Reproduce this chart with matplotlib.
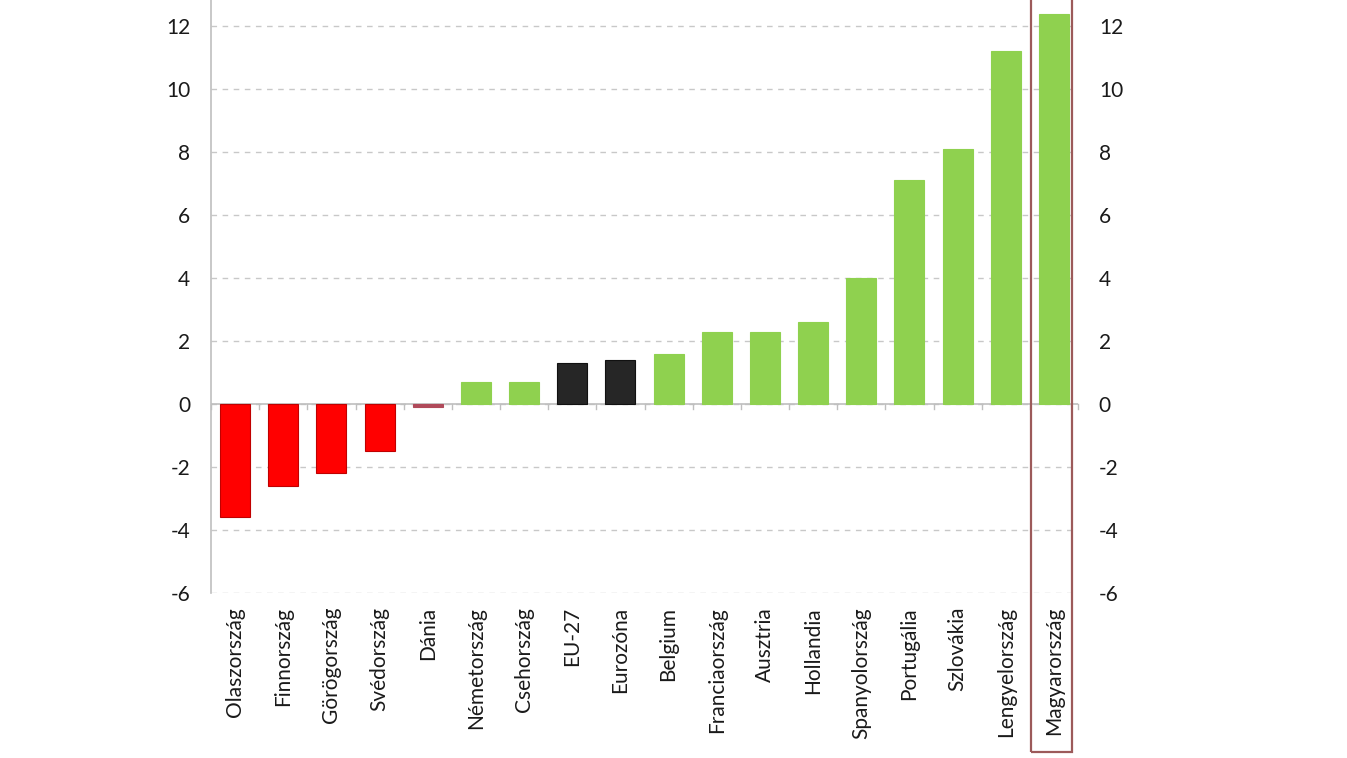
import numpy as np
import matplotlib
matplotlib.use("Agg")
import matplotlib.pyplot as plt
from matplotlib.patches import Rectangle
from matplotlib.transforms import blended_transform_factory

countries = ["Olaszország", "Finnország", "Görögország", "Svédország", "Dánia",
             "Németország", "Csehország", "EU-27", "Eurozóna", "Belgium",
             "Franciaország", "Ausztria", "Hollandia", "Spanyolország",
             "Portugália", "Szlovákia", "Lengyelország", "Magyarország"]
values = [-3.6, -2.6, -2.2, -1.5, -0.1, 0.7, 0.7, 1.3, 1.4, 1.6,
          2.3, 2.3, 2.6, 4.0, 7.1, 8.1, 11.2, 12.4]
groups = ["neg", "neg", "neg", "neg", "dk", "pos", "pos", "eu", "eu", "pos",
          "pos", "pos", "pos", "pos", "pos", "pos", "pos", "pos"]
yticks = [-6, -4, -2, 0, 2, 4, 6, 8, 10, 12]

palette = {"neg": "#ff0000", "dk": "#b04a5a", "pos": "#8fd14f", "eu": "#262626"}
edge = {"neg": "#c00000", "dk": "#b04a5a", "pos": "#8fd14f", "eu": "#111111"}

plt.rcParams["font.family"] = ["Lato", "DejaVu Sans"]

fig = plt.figure(figsize=(13.47, 7.58), dpi=100)
ax = fig.add_axes([211 / 1347, (758 - 593) / 758, (1078 - 211) / 1347, 593 / 758])

x = np.arange(len(countries))
ax.bar(x, values, width=0.62, color=[palette[g] for g in groups],
       edgecolor=[edge[g] for g in groups], linewidth=0.8, zorder=3)

ax.set_xlim(-0.5, len(countries) - 0.5)
ax.set_ylim(-6, 12.83)
ax.set_yticks(yticks)
ax.set_yticklabels([str(t) for t in yticks], fontsize=15, color="#1a1a1a")
ax.yaxis.grid(True, linestyle=(0, (4, 4)), color="#c8c8c8", linewidth=1, zorder=0)
ax.tick_params(axis="y", length=0, pad=15)

# zero line with small category ticks
ax.axhline(0, color="#bfbfbf", linewidth=1.2, zorder=2)
for b in np.arange(-0.5, len(countries), 1.0):
    ax.plot([b, b], [0, -0.15], color="#bfbfbf", linewidth=1, zorder=2, clip_on=False)

ax.set_xticks(x)
ax.set_xticklabels(countries, rotation=90, fontsize=15, color="#1a1a1a", va="top")
ax.tick_params(axis="x", length=0, pad=10)

for s in ["top", "right", "bottom"]:
    ax.spines[s].set_visible(False)
ax.spines["left"].set_color("#bfbfbf")
ax.spines["left"].set_linewidth(1.2)

ax2 = ax.twinx()
ax2.set_ylim(ax.get_ylim())
ax2.set_yticks(yticks)
ax2.set_yticklabels([str(t) for t in yticks], fontsize=15, color="#1a1a1a")
ax2.tick_params(axis="y", length=0, pad=15)
for s in ax2.spines.values():
    s.set_visible(False)

# highlight box around Magyarország
tr = blended_transform_factory(ax.transData, fig.transFigure)
ax.add_patch(Rectangle((16.52, 6 / 758), 0.86, 1.0, transform=tr, fill=False,
                       edgecolor="#9c5a5a", linewidth=1.6, clip_on=False, zorder=5))

fig.savefig("out.png", dpi=100)
